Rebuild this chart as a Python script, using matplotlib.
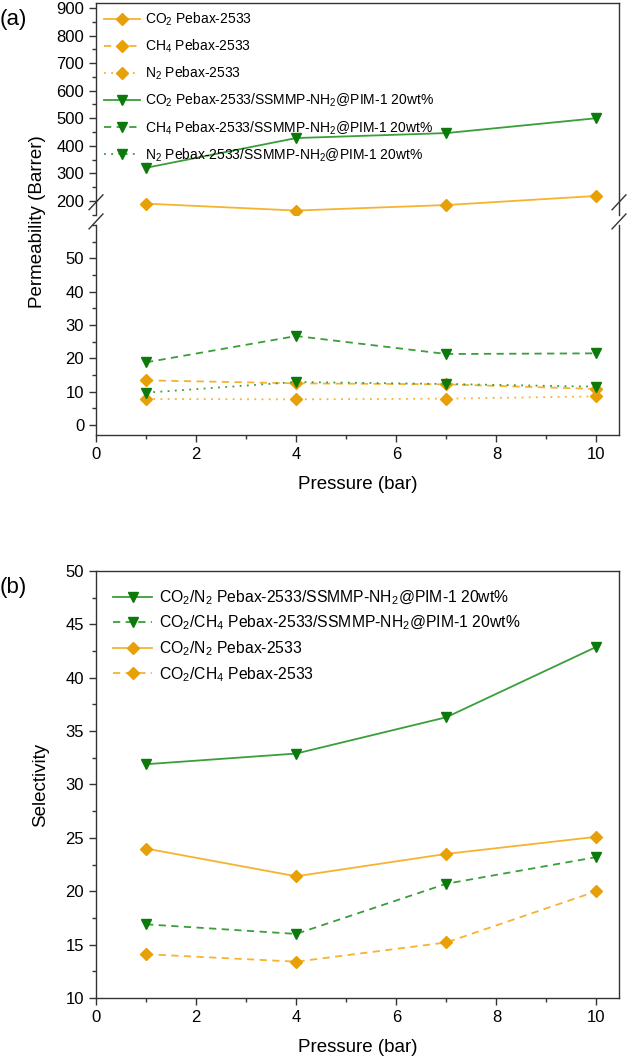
import matplotlib
matplotlib.use('Agg')
import matplotlib.pyplot as plt
from matplotlib.ticker import MultipleLocator

plt.rcParams['font.family'] = ['Liberation Sans', 'DejaVu Sans']
plt.rcParams['mathtext.fontset'] = 'custom'
plt.rcParams['mathtext.rm'] = 'Liberation Sans'

# data
pressure = [1, 4, 7, 10]

co2_pebax = [190, 165, 185, 218]
ch4_pebax = [13.4, 12.5, 12.2, 10.8]
n2_pebax = [7.8, 7.7, 7.9, 8.6]
co2_mmm = [320, 428, 446, 500]
ch4_mmm = [18.8, 26.7, 21.3, 21.5]
n2_mmm = [9.7, 12.9, 12.3, 11.5]

sel_co2n2_mmm = [31.9, 32.9, 36.3, 42.9]
sel_co2ch4_mmm = [16.9, 16.0, 20.7, 23.2]
sel_co2n2_pebax = [24.0, 21.4, 23.5, 25.1]
sel_co2ch4_pebax = [14.1, 13.4, 15.2, 20.0]

orange = '#F5B330'
orange_m = '#E8A008'
green = '#3A9E3A'
green_m = '#0B7A0B'
dash = (0, (4, 3))
dot = (0, (1, 3))

fig = plt.figure(figsize=(6.29, 10.62), dpi=100)

L, W = 0.1526, 0.8315
ax_up = fig.add_axes([L, 0.7976, W, 0.1996])
ax_lo = fig.add_axes([L, 0.5904, W, 0.1977])
ax_b = fig.add_axes([L, 0.0603, W, 0.402])


def style(ax):
    ax.tick_params(which='both', direction='out', right=False, top=False,
                   labelsize=12, width=1.0, color='#333333')
    ax.tick_params(which='major', length=5)
    ax.tick_params(which='minor', length=3)
    for s in ax.spines.values():
        s.set_linewidth(1.0)
        s.set_color('#333333')


def series(ax, y, c, mc, ls, mk, ms, label):
    ax.plot(pressure, y, color=c, ls=ls, lw=1.3, marker=mk, ms=ms,
            mfc=mc, mec=mc, label=label)


# panel (a) -- upper part
series(ax_up, co2_pebax, orange, orange_m, '-', 'D', 6, 'CO$_2$ Pebax-2533')
series(ax_up, [None] * 4, orange, orange_m, dash, 'D', 6, 'CH$_4$ Pebax-2533')
series(ax_up, [None] * 4, orange, orange_m, dot, 'D', 6, 'N$_2$ Pebax-2533')
series(ax_up, co2_mmm, green, green_m, '-', 'v', 7,
       'CO$_2$ Pebax-2533/SSMMP-NH$_2$@PIM-1 20wt%')
series(ax_up, [None] * 4, green, green_m, dash, 'v', 7,
       'CH$_4$ Pebax-2533/SSMMP-NH$_2$@PIM-1 20wt%')
series(ax_up, [None] * 4, green, green_m, dot, 'v', 7,
       'N$_2$ Pebax-2533/SSMMP-NH$_2$@PIM-1 20wt%')

# panel (a) -- lower part
series(ax_lo, ch4_pebax, orange, orange_m, dash, 'D', 6, None)
series(ax_lo, n2_pebax, orange, orange_m, dot, 'D', 6, None)
series(ax_lo, ch4_mmm, green, green_m, dash, 'v', 7, None)
series(ax_lo, n2_mmm, green, green_m, dot, 'v', 7, None)

for ax in (ax_up, ax_lo, ax_b):
    style(ax)
    ax.set_xlim(0, 10.45)
    ax.xaxis.set_major_locator(MultipleLocator(2))
    ax.xaxis.set_minor_locator(MultipleLocator(1))

ax_up.set_ylim(149, 918)
ax_up.set_yticks(range(200, 901, 100))
ax_up.yaxis.set_minor_locator(MultipleLocator(50))
ax_up.spines['bottom'].set_visible(False)
ax_up.tick_params(which='both', bottom=False, labelbottom=False)

ax_lo.set_ylim(-3, 60)
ax_lo.set_yticks(range(0, 51, 10))
ax_lo.yaxis.set_minor_locator(MultipleLocator(5))
ax_lo.spines['top'].set_visible(False)
ax_lo.set_xlabel('Pressure (bar)', fontsize=13.5, labelpad=10)

# break marks
for x in (0, 1):
    for dy in (0, 0.018):
        fig.lines.append(plt.Line2D(
            [L + x * W - 0.011, L + x * W + 0.011],
            [0.7845 + dy, 0.7985 + dy], transform=fig.transFigure,
            color='#333333', lw=1.0))

leg = ax_up.legend(loc='upper left', frameon=False, fontsize=10,
                   handlelength=2.6, labelspacing=0.7, borderaxespad=0.25,
                   handletextpad=0.4, borderpad=0.3)

fig.text(0.06, 1 - 222 / 1062, 'Permeability (Barrer)', rotation=90,
         ha='center', va='center', fontsize=13.5)
fig.text(0.0, 0.982, '(a)', fontsize=16, ha='left', va='center')

# panel (b)
series(ax_b, sel_co2n2_mmm, green, green_m, '-', 'v', 7,
       'CO$_2$/N$_2$ Pebax-2533/SSMMP-NH$_2$@PIM-1 20wt%')
series(ax_b, sel_co2ch4_mmm, green, green_m, dash, 'v', 7,
       'CO$_2$/CH$_4$ Pebax-2533/SSMMP-NH$_2$@PIM-1 20wt%')
series(ax_b, sel_co2n2_pebax, orange, orange_m, '-', 'D', 6,
       'CO$_2$/N$_2$ Pebax-2533')
series(ax_b, sel_co2ch4_pebax, orange, orange_m, dash, 'D', 6,
       'CO$_2$/CH$_4$ Pebax-2533')
ax_b.set_ylim(10, 50)
ax_b.yaxis.set_major_locator(MultipleLocator(5))
ax_b.yaxis.set_minor_locator(MultipleLocator(2.5))
ax_b.set_xlabel('Pressure (bar)', fontsize=13.5, labelpad=10)
ax_b.set_ylabel('Selectivity', fontsize=13.5, labelpad=12)
ax_b.legend(loc='upper left', frameon=False, fontsize=11.3,
            handlelength=2.5, labelspacing=0.45, borderaxespad=0.6,
            handletextpad=0.4, borderpad=0.5)
fig.text(0.0, 1 - 587 / 1062, '(b)', fontsize=16, ha='left', va='center')

fig.savefig('out.png', dpi=100)
